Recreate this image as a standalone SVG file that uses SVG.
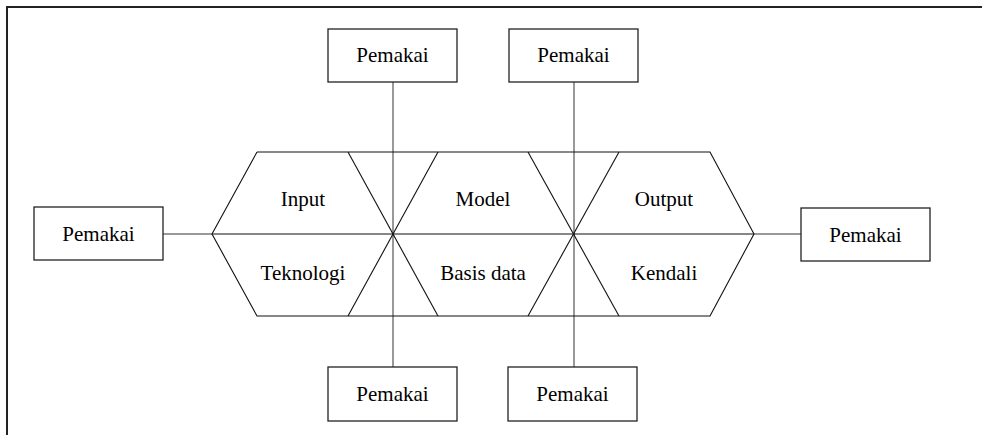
<svg xmlns="http://www.w3.org/2000/svg" width="982" height="435" viewBox="0 0 982 435">
<style>
.box{fill:#fff;stroke:#222;stroke-width:1.3}
.t{font-family:"Liberation Serif","Times New Roman",serif;font-size:21px;fill:#000;text-anchor:middle}
.conn{stroke:#777;stroke-width:1.5;fill:none}
.hex{stroke:#111;stroke-width:1.1;fill:none}
</style>
<rect width="982" height="435" fill="#fff"/>
<g id="frame"><polyline points="7,435 7,7 982,7" fill="none" stroke="#222" stroke-width="2"/></g>
<g id="connectors">
<line class="conn" x1="393" y1="82" x2="393" y2="367"/>
<line class="conn" x1="574" y1="82" x2="574" y2="367"/>
<line class="conn" x1="163" y1="234" x2="212" y2="234"/>
<line class="conn" x1="754" y1="234" x2="801" y2="234"/>
</g>
<g id="hexagon">
<polyline class="hex" points="257,152 710,152 754,234 710,316 257,316 212,234 257,152"/>
<line class="hex" x1="212" y1="234" x2="754" y2="234"/>
<line class="hex" x1="348" y1="152" x2="438" y2="316"/>
<line class="hex" x1="438" y1="152" x2="348" y2="316"/>
<line class="hex" x1="528" y1="152" x2="619" y2="316"/>
<line class="hex" x1="619" y1="152" x2="528" y2="316"/>
</g>
<g id="input"><text class="t" x="303" y="206">Input</text></g>
<g id="teknologi"><text class="t" x="303" y="280">Teknologi</text></g>
<g id="model"><text class="t" x="483" y="206">Model</text></g>
<g id="basisdata"><text class="t" x="483" y="280">Basis data</text></g>
<g id="output"><text class="t" x="664" y="206">Output</text></g>
<g id="kendali"><text class="t" x="664" y="280">Kendali</text></g>
<g id="pemakai-top-left"><rect class="box" x="328" y="29" width="129" height="53"/><text class="t" x="392.5" y="62">Pemakai</text></g>
<g id="pemakai-top-right"><rect class="box" x="509" y="29" width="129" height="53"/><text class="t" x="573.5" y="62">Pemakai</text></g>
<g id="pemakai-left"><rect class="box" x="34" y="207" width="129" height="53"/><text class="t" x="98.5" y="241">Pemakai</text></g>
<g id="pemakai-right"><rect class="box" x="801" y="208" width="129" height="53"/><text class="t" x="865.5" y="242">Pemakai</text></g>
<g id="pemakai-bottom-left"><rect class="box" x="328" y="367" width="129" height="54"/><text class="t" x="392.5" y="401">Pemakai</text></g>
<g id="pemakai-bottom-right"><rect class="box" x="508" y="367" width="129" height="54"/><text class="t" x="572.5" y="401">Pemakai</text></g>
</svg>
